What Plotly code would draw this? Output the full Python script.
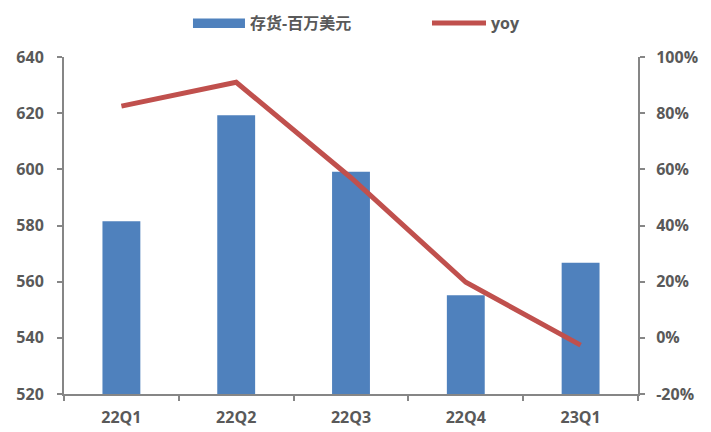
import plotly.graph_objects as go

categories = ["22Q1", "22Q2", "22Q3", "22Q4", "23Q1"]
inventory = [581.5, 619.3, 599.1, 555.2, 566.7]
yoy = [82.5, 91.0, 57.0, 19.8, -2.6]
left_ticks = [520, 540, 560, 580, 600, 620, 640]
right_ticks = [-20, 0, 20, 40, 60, 80, 100]
right_labels = [f"{v}%" for v in right_ticks]
series_names = ["存货-百万美元", "yoy"]
bar_color = "#4F81BD"
line_color = "#C0504D"

font_family = "Open Sans, Noto Sans CJK SC, sans-serif"
txt = "#595959"
axc = "#868686"
fs = 16

fig = go.Figure()
fig.add_trace(go.Bar(x=categories, y=inventory, name=series_names[0],
                     marker=dict(color=bar_color, line=dict(width=0)),
                     width=0.33, yaxis="y"))
fig.add_trace(go.Scatter(x=categories, y=yoy, name=series_names[1], mode="lines",
                         line=dict(color=line_color, width=5),
                         yaxis="y2"))

# custom legend (paper coordinates)
fig.add_shape(type="rect", xref="paper", yref="paper",
              x0=0.2247, x1=0.3153, y0=1.086, y1=1.114,
              fillcolor=bar_color, line=dict(width=0))
fig.add_shape(type="line", xref="paper", yref="paper",
              x0=0.6411, x1=0.7352, y0=1.1009, y1=1.1009,
              line=dict(color=line_color, width=5))
fig.add_annotation(text=series_names[0], xref="paper", yref="paper",
                   x=0.320, y=1.1009, xanchor="left", yanchor="middle",
                   showarrow=False, font=dict(size=16, color=txt, weight="bold"))
fig.add_annotation(text=series_names[1], xref="paper", yref="paper",
                   x=0.740, y=1.1009, xanchor="left", yanchor="middle",
                   showarrow=False, font=dict(size=16, color=txt, weight="bold"))

fig.update_layout(
    width=703, height=424,
    margin=dict(l=56, r=73, t=49, b=38, autoexpand=False),
    plot_bgcolor="white", paper_bgcolor="white",
    font=dict(family=font_family, color=txt, size=fs, weight="bold"),
    showlegend=False,
    bargap=0.67,
    xaxis=dict(type="category", showline=True, linecolor=axc, linewidth=2,
               ticks="outside", tickson="boundaries", ticklen=5, tickcolor=axc,
               tickwidth=2, showgrid=False, ticklabelstandoff=8,
               tickfont=dict(size=fs, color=txt, weight="bold")),
    yaxis=dict(range=[520, 640], tickvals=left_ticks, showline=True,
               linecolor=axc, linewidth=2, ticks="outside", ticklen=5,
               tickcolor=axc, tickwidth=2, showgrid=False, zeroline=False,
               ticklabelstandoff=10,
               tickfont=dict(size=fs, color=txt, weight="bold")),
    yaxis2=dict(range=[-20, 100], tickvals=right_ticks, ticktext=right_labels,
                overlaying="y", side="right", showline=True, linecolor=axc,
                linewidth=2, ticks="outside", ticklen=5, tickcolor=axc,
                tickwidth=2, showgrid=False, zeroline=False,
                ticklabelstandoff=8,
                tickfont=dict(size=fs, color=txt, weight="bold")),
)

fig.write_html("out.html")
